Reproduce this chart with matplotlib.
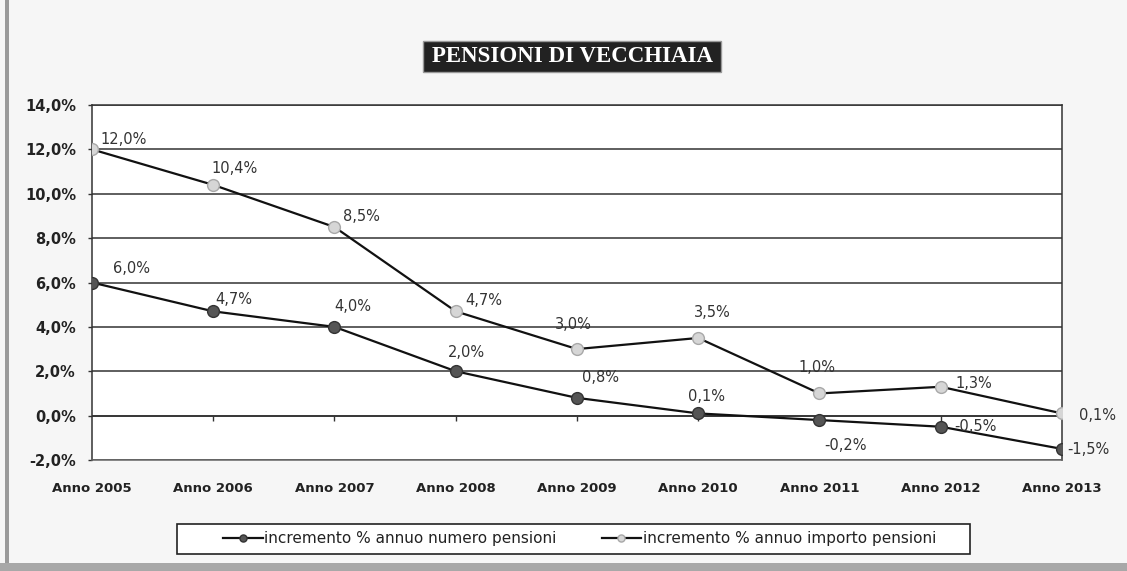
import numpy as np
import matplotlib.pyplot as plt
from matplotlib.patches import Rectangle

# Data
years = ['Anno 2005', 'Anno 2006', 'Anno 2007', 'Anno 2008', 'Anno 2009',
         'Anno 2010', 'Anno 2011', 'Anno 2012', 'Anno 2013']
numero = [6.0, 4.7, 4.0, 2.0, 0.8, 0.1, -0.2, -0.5, -1.5]
importo = [12.0, 10.4, 8.5, 4.7, 3.0, 3.5, 1.0, 1.3, 0.1]
y_ticks = [-2, 0, 2, 4, 6, 8, 10, 12, 14]

label_numero = 'incremento % annuo numero pensioni'
label_importo = 'incremento % annuo importo pensioni'
title = 'PENSIONI DI VECCHIAIA'

# data label placement in pixels: (dx of left edge, dy up)
off_numero = [(21, 14), (2, 12), (0, 20), (-8, 19), (5, 20), (-10, 17), (5, -25), (14, 0), (5, -1)]
off_importo = [(8, 10), (-2, 16), (9, 11), (10, 11), (-22, 25), (-4, 25), (-21, 26), (15, 3), (17, -2)]


def pct(v):
    return f'{v:.1f}%'.replace('.', ',')


def main():
    W, H = 1127, 571
    fig = plt.figure(figsize=(W / 100, H / 100), dpi=100, facecolor='#f6f6f6')
    ax = fig.add_axes([0.0816, 0.1944, 0.8607, 0.6217])
    ax.set_facecolor('white')

    x = np.arange(len(years))

    ax.plot(x, numero, color='#111111', lw=1.6, marker='o', markersize=8.5,
            markerfacecolor='#555555', markeredgecolor='#333333', label=label_numero, zorder=3)
    ax.plot(x, importo, color='#111111', lw=1.6, marker='o', markersize=8.5,
            markerfacecolor='#d6d6d6', markeredgecolor='#a8a8a8', label=label_importo, zorder=3)

    px = 0.72  # points per pixel at dpi 100
    for series, offs in ((numero, off_numero), (importo, off_importo)):
        for xi, v, (dx, dy) in zip(x, series, offs):
            ax.annotate(pct(v), (xi, v), xytext=(dx * px, dy * px), textcoords='offset points',
                        ha='left', va='center', fontsize=10.5, color='#333333', zorder=4)

    ax.set_xlim(0, len(years) - 1)
    ax.set_ylim(-2, 14)
    ax.set_yticks(y_ticks)
    ax.set_yticklabels([pct(v) for v in y_ticks], fontsize=10.5, fontweight='bold', color='#222222')
    ax.set_xticks(x)
    ax.set_xticklabels(years, fontsize=9.5, fontweight='bold', color='#222222')
    ax.tick_params(axis='x', length=0, pad=16)
    ax.tick_params(axis='y', length=3, width=1, color='#333333', pad=8.5)
    ax.grid(axis='y', color='#333333', lw=1.1)
    ax.set_axisbelow(True)

    # small tick marks on the zero line (category axis crosses at 0)
    ax.vlines(x[1:-1], -0.22, 0, color='#333333', lw=1, zorder=2)
    ax.axhline(0, color='#333333', lw=1.2, zorder=2)

    for s in ax.spines.values():
        s.set_color('#333333')
        s.set_linewidth(1.1)
    ax.spines['bottom'].set_color('#666666')

    # legend box drawn by hand, entries without frame
    fig.patches.append(Rectangle((177 / W, 1 - 554 / H), 793 / W, 30 / H,
                                 transform=fig.transFigure, facecolor='white',
                                 edgecolor='#222222', lw=1.2, zorder=1))
    leg = fig.legend(loc='center', bbox_to_anchor=(579.5 / W, 1 - 539 / H), ncol=2,
                     frameon=False, fontsize=11, borderpad=0.2,
                     columnspacing=2.95, handlelength=2.6, handletextpad=0.1, markerscale=0.6)
    leg.set_zorder(2)
    for t in leg.get_texts():
        t.set_color('#222222')

    # title in a dark box
    fig.patches.append(Rectangle((423 / W, 1 - 72 / H), 298 / W, 31 / H,
                                 transform=fig.transFigure, facecolor='#222222',
                                 edgecolor='#999999', lw=1))
    fig.text(572 / W, 1 - 57 / H, title, ha='center', va='center', fontsize=16.5,
             fontweight='bold', family='Liberation Serif', color='white')

    # scanned frame: left bar and bottom band
    fig.patches.append(Rectangle((0.004, 0.0), 0.004, 1.0, transform=fig.transFigure,
                                 facecolor='#9a9a9a', edgecolor='none'))
    fig.patches.append(Rectangle((0.0, 0.0), 1.0, 0.014, transform=fig.transFigure,
                                 facecolor='#a8a8a8', edgecolor='none'))

    fig.savefig('out.png', dpi=100, facecolor=fig.get_facecolor())


if __name__ == '__main__':
    main()
